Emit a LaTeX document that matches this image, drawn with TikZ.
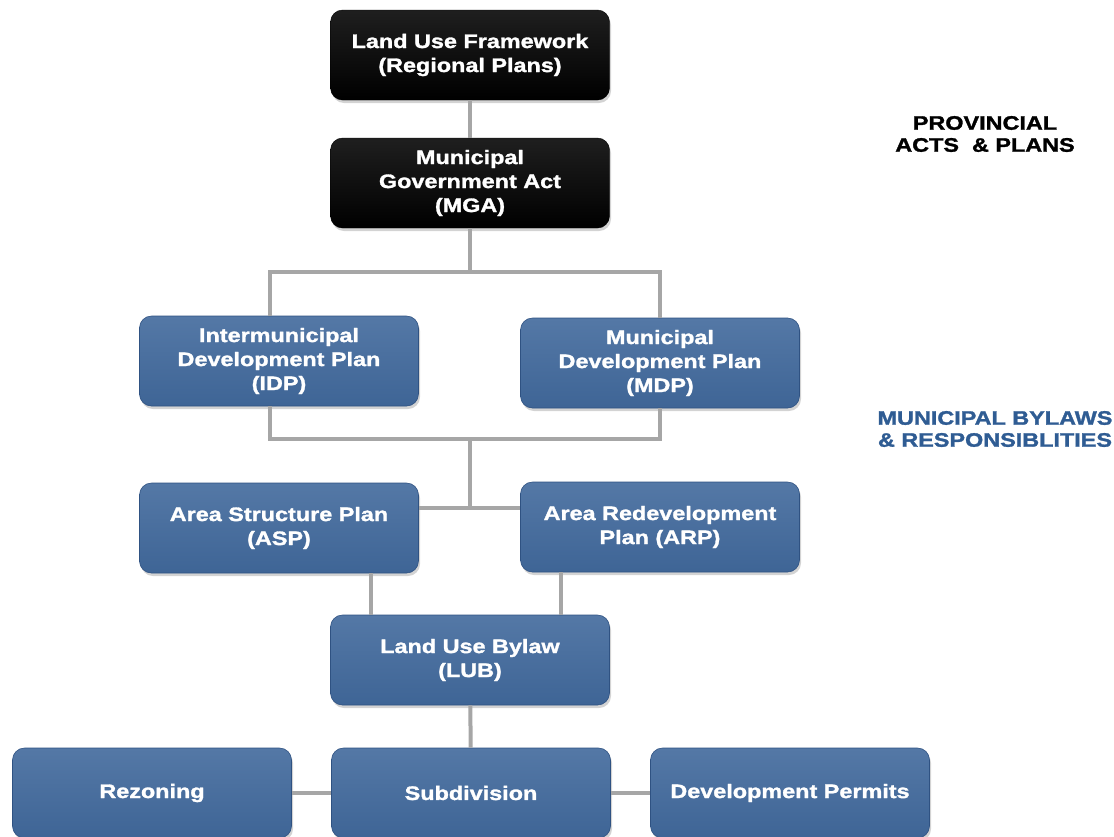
\documentclass[tikz,border=0pt]{standalone}
\usepackage{fontspec}
\setmainfont{Liberation Sans}
\newfontfamily\heavyfont[FakeStretch=1.2, FakeBold=1.5]{Liberation Sans Bold}
\usepackage{tikz}
\usetikzlibrary{shadows, positioning}

\definecolor{boxblue}{HTML}{41699C}
\definecolor{boxedge}{HTML}{2F5282}
\definecolor{linegray}{HTML}{A6A6A6}
\definecolor{labelblue}{HTML}{2F5C93}

\begin{document}
\begin{tikzpicture}[x=1pt, y=-1pt]
    \tikzset{plan/.style={rectangle, rounded corners=12pt, minimum width=279pt, minimum height=90pt,
        align=center, text=white, font=\heavyfont\fontsize{19.5}{24}\selectfont, inner sep=2pt,
        drop shadow={opacity=0.35, shadow xshift=1.5pt, shadow yshift=-3pt}},
      blueplan/.style={plan, top color=boxblue!90!white, bottom color=boxblue!96!black, draw=boxedge, line width=0.6pt},
      blackplan/.style={plan, top color=black!88, bottom color=black, draw=black},
      link/.style={draw=linegray, line width=4pt},
      side/.style={align=center, font=\heavyfont\fontsize{19.5}{22}\selectfont}}
    \useasboundingbox (0,0) rectangle (1114,836);
    \node [blackplan] (luf) at (470,55) {Land Use Framework\\(Regional Plans)};
    \node [blackplan] (mga) at (470,183) {Municipal\\Government Act\\(MGA)};
    \node [blueplan] (idp) at (279,361) {Intermunicipal\\Development Plan\\(IDP)};
    \node [blueplan] (mdp) at (660,363) {Municipal\\Development Plan\\(MDP)};
    \node [blueplan] (asp) at (279,528) {Area Structure Plan\\(ASP)};
    \node [blueplan] (arp) at (660,527) {Area Redevelopment\\Plan (ARP)};
    \node [blueplan] (lub) at (470,660) {Land Use Bylaw\\(LUB)};
    \node [blueplan] (sub) at (471,793) {Subdivision};
    \node [blueplan] (rez) at (152,793) {Rezoning};
    \node [blueplan] (dev) at (790,793) {Development Permits};
    \node [side] (prov) at (985,134) {PROVINCIAL\\ACTS \ \& PLANS};
    \node [side, text=labelblue] (muni) at (995,429) {MUNICIPAL BYLAWS\\\& RESPONSIBLITIES};
    \coordinate (busA) at (470,272);
    \coordinate (busB) at (470,439);
    \coordinate (busC) at (470,508);
    \begin{scope}[on background layer/.try]
    \draw [link] (luf) -- (mga);
    \draw [link] (mga) -- (busA);
    \draw [link] (idp.north -| 270,0) -- (busA -| 270,0) -- (busA -| mdp.north) -- (mdp.north);
    \draw [link] (idp.south -| 270,0) -- (busB -| 270,0) -- (busB -| mdp.south) -- (mdp.south);
    \draw [link] (busB) -- (busC);
    \draw [link] (asp.east |- busC) -- (arp.west |- busC);
    \draw [link] (asp.south -| 371,0) -- (lub.north -| 371,0);
    \draw [link] (arp.south -| 561,0) -- (lub.north -| 561,0);
    \draw [link] (lub) -- (sub);
    \draw [link] (rez) -- (sub);
    \draw [link] (sub) -- (dev);
    \end{scope}
\end{tikzpicture}
\end{document}
